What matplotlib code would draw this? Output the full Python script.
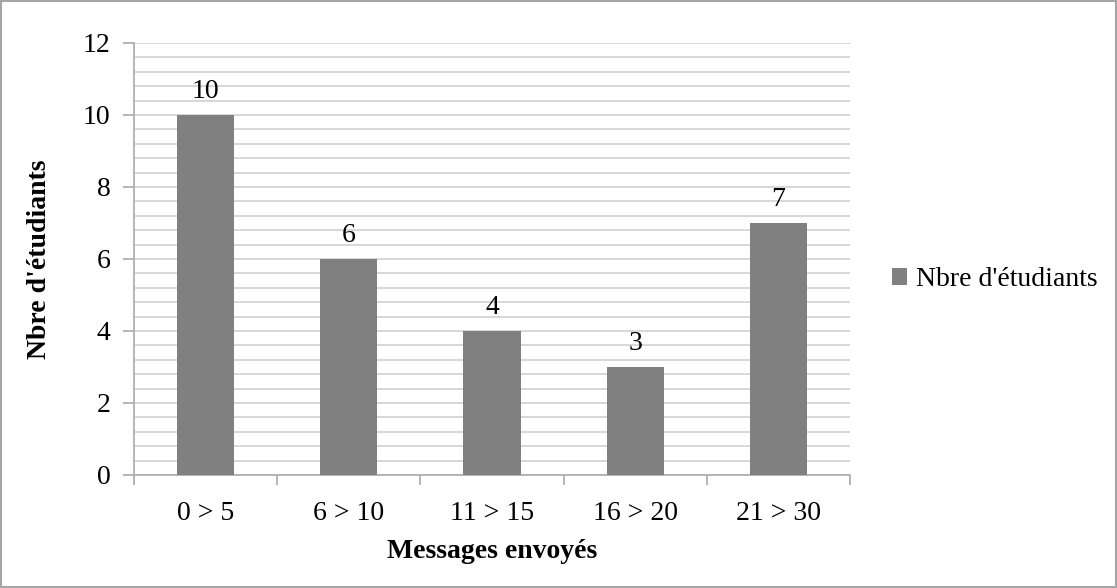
import matplotlib
matplotlib.use("Agg")
import matplotlib.pyplot as plt
from matplotlib.patches import Rectangle
import numpy as np

categories = ["0 > 5", "6 > 10", "11 > 15", "16 > 20", "21 > 30"]
values = [10, 6, 4, 3, 7]
series_name = "Nbre d'étudiants"
x_label = "Messages envoyés"
y_label = "Nbre d'étudiants"

plt.rcParams['font.family'] = ['Liberation Serif', 'DejaVu Serif']
FS = 20

W, H = 1117, 588
fig = plt.figure(figsize=(W/100, H/100), dpi=100)
ax = fig.add_axes([134/W, 1-475/H, (850-134)/W, (475-43)/H])

x = np.arange(len(categories))
bars = ax.bar(x, values, width=0.4, color="#808080", zorder=3, label=series_name)
for xi, v in zip(x, values):
    ax.text(xi, v + 0.3, str(v), ha="center", va="bottom", fontsize=FS, color="black")

ax.set_xlim(-0.5, len(categories)-0.5)
ax.set_ylim(0, 12)
ax.set_yticks(np.arange(0, 13, 2))
ax.set_yticks(np.arange(0, 12.01, 0.4), minor=True)
ax.yaxis.grid(True, which="both", color="#d4d4d4", linewidth=1.3, zorder=0)
ax.set_axisbelow(True)
ax.set_xticks(np.arange(-0.5, len(categories), 1.0))
ax.set_xticklabels([])
ax.set_xticks(x, minor=True)
ax.set_xticklabels(categories, minor=True, fontsize=FS)
ax.tick_params(axis="x", which="minor", length=0, pad=19)
ax.tick_params(axis="x", which="major", length=7, width=1.3, color="#b0b0b0", direction="out")
ax.tick_params(axis="y", which="major", length=8, width=1.3, color="#b0b0b0", labelsize=FS, pad=9)
ax.tick_params(axis="y", which="minor", length=0)
for s in ["top", "right"]:
    ax.spines[s].set_visible(False)
for s in ["left", "bottom"]:
    ax.spines[s].set_color("#b0b0b0")
    ax.spines[s].set_linewidth(1.3)

ax.set_xlabel(x_label, fontsize=FS, fontweight="bold", labelpad=9)
ax.set_ylabel(y_label, fontsize=FS, fontweight="bold", labelpad=22)

leg = fig.legend(handles=[bars], labels=[series_name], loc="center left",
                 bbox_to_anchor=(867/W, 1-280/H), frameon=False, fontsize=FS,
                 handlelength=0.55, handleheight=0.55, handletextpad=0.3)

fig.patches.append(Rectangle((1/W, 1/H), 1-2/W, 1-2/H, transform=fig.transFigure,
                             fill=False, edgecolor="#a6a6a6", linewidth=1.5))

fig.savefig("out.png", dpi=100, facecolor="white")
